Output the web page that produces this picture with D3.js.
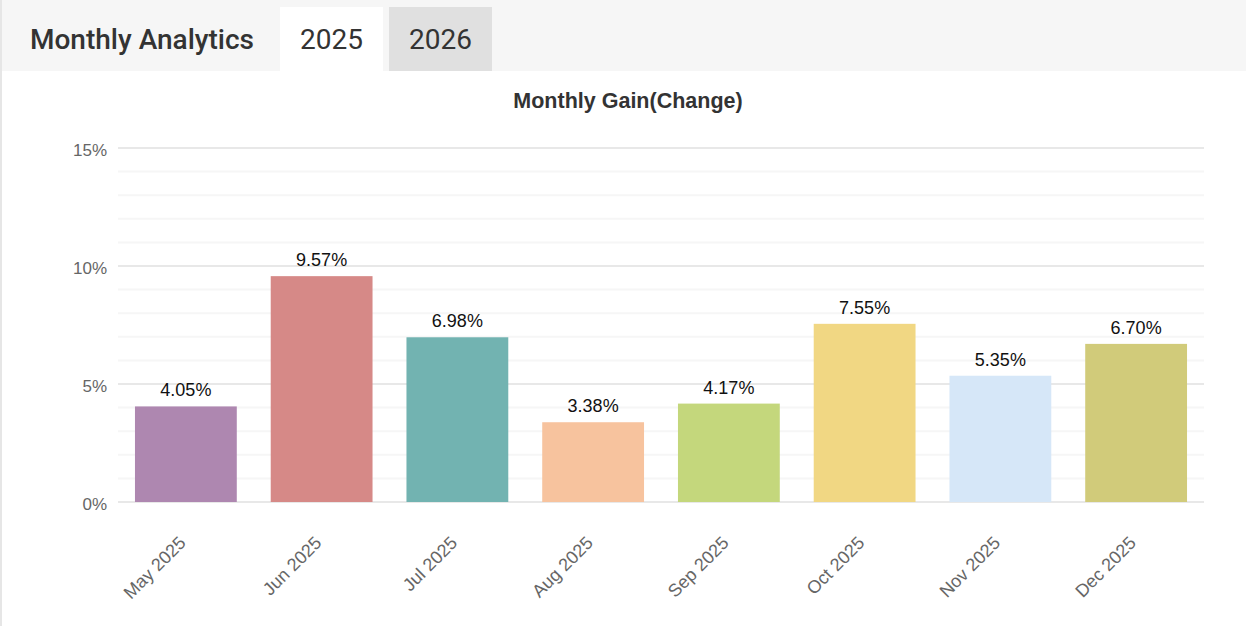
<!DOCTYPE html>
<html>
<head>
<meta charset="utf-8">
<script src="https://cdn.jsdelivr.net/npm/d3@7"></script>
<style>
  body { margin: 0; background: #fff; }
  #wrapper { position: relative; width: 1246px; height: 626px; overflow: hidden; }
</style>
</head>
<body>
<div id="wrapper"></div>
<script>
const months = ["May 2025", "Jun 2025", "Jul 2025", "Aug 2025", "Sep 2025", "Oct 2025", "Nov 2025", "Dec 2025"]
const gains = [4.05, 9.57, 6.98, 3.38, 4.17, 7.55, 5.35, 6.70]
const barColors = ["#ae87b0", "#d68987", "#72b3b1", "#f7c39e", "#c4d77c", "#f1d783", "#d6e7f8", "#d1cb7a"]
const yTicks = [0, 5, 10, 15]
const tabs = ["2025", "2026"]

function drawChart() {
  const width = 1246
  const height = 626

  const svg = d3.select("#wrapper")
    .append("svg")
    .attr("width", width)
    .attr("height", height)

  // header strip + left border
  svg.append("rect")
    .attr("x", 0).attr("y", 0)
    .attr("width", width).attr("height", 71)
    .attr("fill", "#f6f6f6")
  svg.append("rect")
    .attr("x", 0).attr("y", 0)
    .attr("width", 2).attr("height", height)
    .attr("fill", "#e6e6e6")

  svg.append("text")
    .attr("x", 30).attr("y", 49)
    .attr("font-family", "Roboto")
    .attr("font-weight", 500)
    .attr("font-size", 28)
    .attr("fill", "#333")
    .text("Monthly Analytics")

  const tabX = [280, 389]
  const tabFill = ["#ffffff", "#e0e0e0"]
  tabs.forEach((t, i) => {
    svg.append("rect")
      .attr("x", tabX[i]).attr("y", 7)
      .attr("width", 103).attr("height", 64)
      .attr("fill", tabFill[i])
    svg.append("text")
      .attr("x", tabX[i] + 51.5).attr("y", 49)
      .attr("text-anchor", "middle")
      .attr("font-family", "Roboto")
      .attr("font-size", 28)
      .attr("fill", "#333")
      .text(t)
  })

  svg.append("text")
    .attr("x", 628).attr("y", 108)
    .attr("text-anchor", "middle")
    .attr("font-family", "Liberation Sans, Arial, sans-serif")
    .attr("font-weight", "bold")
    .attr("font-size", 21.5)
    .attr("fill", "#333")
    .text("Monthly Gain(Change)")

  const dms = { left: 118, right: 1204, top: 148, bottom: 502 }

  const xScale = d3.scaleBand()
    .domain(months)
    .range([dms.left, dms.right])
    .paddingInner(0.25)
    .paddingOuter(0.125)

  const yScale = d3.scaleLinear()
    .domain([0, 15])
    .range([dms.bottom, dms.top])

  const grid = svg.append("g")
  grid.selectAll("line.minor")
    .data(d3.range(0, 16).filter(v => v % 5 !== 0))
    .join("line")
    .attr("x1", dms.left).attr("x2", dms.right)
    .attr("y1", d => yScale(d)).attr("y2", d => yScale(d))
    .attr("stroke", "#f6f6f6")
    .attr("stroke-width", 2)
  grid.selectAll("line.major")
    .data(yTicks)
    .join("line")
    .attr("x1", dms.left).attr("x2", dms.right)
    .attr("y1", d => yScale(d)).attr("y2", d => yScale(d))
    .attr("stroke", "#e8e8e8")
    .attr("stroke-width", 2)

  const yAxis = svg.append("g")
    .attr("transform", `translate(${dms.left - 8},0)`)
    .call(d3.axisLeft(yScale).tickValues(yTicks).tickFormat(d => d + "%").tickSize(0))
  yAxis.select(".domain").remove()
  yAxis.selectAll("text")
    .attr("font-family", "Liberation Sans, Arial, sans-serif")
    .attr("font-size", 17)
    .attr("fill", "#666")
    .attr("dy", "0.45em")

  svg.append("g")
    .selectAll("rect")
    .data(gains)
    .join("rect")
    .attr("x", (d, i) => xScale(months[i]))
    .attr("y", d => yScale(d))
    .attr("width", xScale.bandwidth())
    .attr("height", d => yScale(0) - yScale(d))
    .attr("fill", (d, i) => barColors[i])

  svg.append("g")
    .selectAll("text")
    .data(gains)
    .join("text")
    .attr("x", (d, i) => xScale(months[i]) + xScale.bandwidth() / 2)
    .attr("y", d => yScale(d) - 10)
    .attr("text-anchor", "middle")
    .attr("font-family", "Liberation Sans, Arial, sans-serif")
    .attr("font-size", 18)
    .attr("fill", "#111")
    .text(d => d.toFixed(2) + "%")

  const xAxis = svg.append("g")
    .attr("transform", `translate(0,${dms.bottom})`)
    .call(d3.axisBottom(xScale).tickSize(0))
  xAxis.select(".domain").remove()
  xAxis.selectAll("text")
    .attr("font-family", "Liberation Sans, Arial, sans-serif")
    .attr("font-size", 18)
    .attr("fill", "#666")
    .attr("text-anchor", "end")
    .attr("dy", 0)
    .attr("y", 0)
    .attr("transform", "translate(1,42) rotate(-45)")
}

drawChart()
</script>
</body>
</html>
